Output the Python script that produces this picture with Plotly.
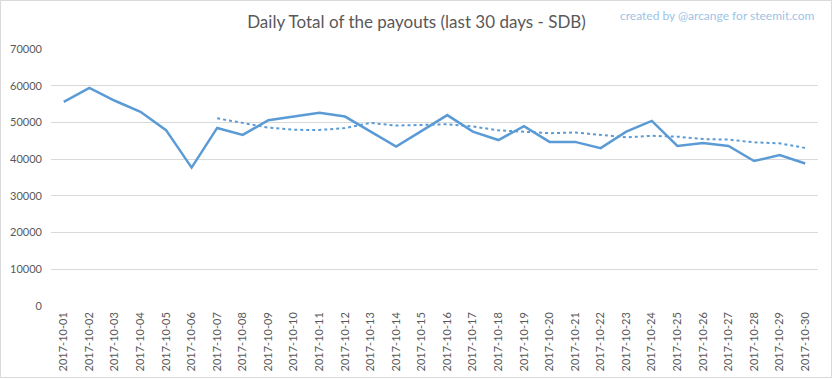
import plotly.graph_objects as go
import pandas as pd

dates = [f"2017-10-{d:02d}" for d in range(1, 31)]
payouts = [55600, 59400, 55900, 52900, 47900, 37700, 48500, 46600, 50600, 51700,
           52600, 51600, 47500, 43400, 47700, 52000, 47500, 45200, 49000, 44700,
           44700, 43000, 47500, 50400, 43600, 44400, 43600, 39500, 41100, 38800]
y_ticks = [0, 10000, 20000, 30000, 40000, 50000, 60000, 70000]

title_text = "Daily Total of the payouts (last 30 days - SDB)"
credit_text = "created by @arcange for steemit.com"

# 7-period moving-average trendline (as drawn by the original chart's trendline)
trend = pd.Series(payouts).rolling(7).mean().tolist()

W, H = 833, 379
L, R, T, B = 51, 15, 49, 73
pw, ph = W - L - R, H - T - B

fig = go.Figure()
fig.add_trace(go.Scatter(x=dates, y=payouts, mode="lines",
                         line=dict(color="#5B9BD5", width=2.5), showlegend=False))
fig.add_trace(go.Scatter(x=dates, y=trend, mode="lines",
                         line=dict(color="#5B9BD5", width=2, dash="dot"), showlegend=False))

fig.update_layout(
    width=W, height=H,
    margin=dict(l=L, r=R, t=T, b=B, autoexpand=False),
    paper_bgcolor="white", plot_bgcolor="white",
    font=dict(family="Lato, Open Sans, sans-serif", color="#595959"),
    title=dict(text=title_text, x=0.5, xref="container", xanchor="center",
               yref="container", y=1 - 22 / H, yanchor="middle",
               font=dict(size=17, color="#595959", family="Lato, Open Sans, sans-serif")),
    xaxis=dict(type="category", range=[-0.5, 29.5], showgrid=False, automargin=False,
               tickangle=-90, tickfont=dict(size=11, color="#595959"),
               ticks="", showline=False, zeroline=False, ticklabelstandoff=3),
    yaxis=dict(range=[0, 70000], tickvals=y_ticks, ticktext=[str(v) for v in y_ticks],
               showgrid=True, gridcolor="#D9D9D9", gridwidth=1, zeroline=False, automargin=False,
               tickfont=dict(size=11, color="#595959"), ticks="", showline=False,
               ticklabelstandoff=8),
    annotations=[dict(text=credit_text, xref="paper", yref="paper",
                      x=(817 - L) / pw, y=1 + (T - 15) / ph, xanchor="right", yanchor="middle",
                      showarrow=False,
                      font=dict(size=12, color="#9DC3E6", family="Lato, Open Sans, sans-serif"))],
    shapes=[dict(type="rect", xref="paper", yref="paper",
                 x0=(0.5 - L) / pw, x1=(W - 1.5 - L) / pw,
                 y0=-(B - 1.5) / ph, y1=1 + (T - 0.5) / ph,
                 line=dict(color="#D9D9D9", width=1))],
)

fig.write_html("out.html", config={"displayModeBar": False},
               post_script="document.body.style.margin='0';document.body.style.overflow='hidden';")
